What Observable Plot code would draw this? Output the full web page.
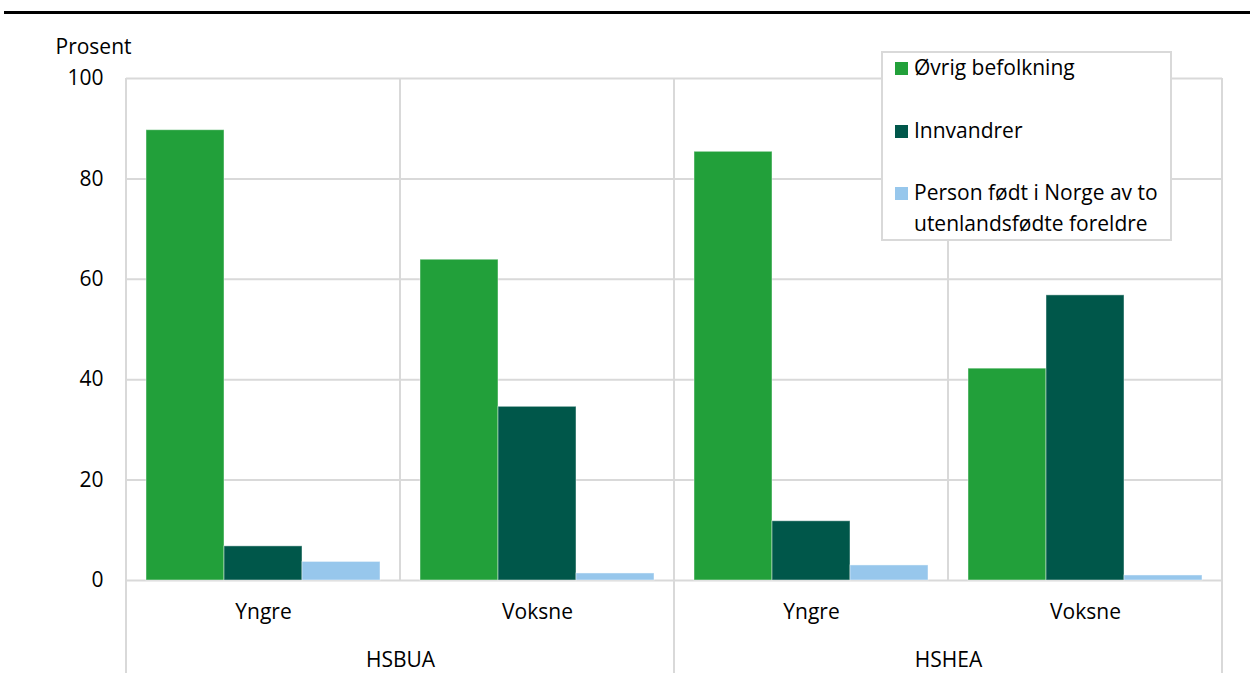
<!DOCTYPE html>
<html>
<head>
<meta charset="utf-8">
<script src="https://cdn.jsdelivr.net/npm/d3@7"></script>
<script src="https://cdn.jsdelivr.net/npm/@observablehq/plot@0.6"></script>
<style>
  body { margin: 0; background: #fff; font-family: "Open Sans", sans-serif; }
  #wrap { position: relative; width: 1250px; height: 673px; overflow: hidden; }
  #topline { position: absolute; left: 4px; top: 11px; width: 1246px; height: 3px; background: #000; }
  #chart { position: absolute; left: 0; top: 0; }
  #legend { position: absolute; left: 881px; top: 51px; width: 287px; height: 186px;
            border: 2px solid #d9d9d9; background: #fff; font-size: 21px; color: #000; line-height: 31px; }
  .item { position: absolute; left: 12px; }
  .sw { position: absolute; left: 0; width: 13px; height: 13px; }
  .lab { position: absolute; left: 19px; white-space: nowrap; }
</style>
</head>
<body>
<div id="wrap">
  <div id="chart"></div>
  <div id="topline"></div>
  <div id="legend"></div>
</div>
<script>
// ---- data ----
const groups = ["HSBUA", "HSBUA", "HSHEA", "HSHEA"];
const ages = ["Yngre", "Voksne", "Yngre", "Voksne"];
const seriesNames = ["Øvrig befolkning", "Innvandrer", "Person født i Norge av to utenlandsfødte foreldre"];
const ovrig = [89.7, 63.9, 85.4, 42.2];
const innvandrer = [6.8, 34.6, 11.8, 56.8];
const personFodt = [3.7, 1.4, 3.0, 1.0];
const colors = ["#22a03a", "#00574a", "#97c7ec"];
const yTicks = [0, 20, 40, 60, 80, 100];
const legendLines = [["Øvrig befolkning"], ["Innvandrer"], ["Person født i Norge av to", "utenlandsfødte foreldre"]];

const values = [ovrig, innvandrer, personFodt];
const keys = groups.map((g, i) => g + "|" + ages[i]);
const rows = [];
keys.forEach((k, i) => seriesNames.forEach((s, j) => rows.push({key: k, series: s, value: values[j][i]})));
const groupNames = [...new Set(groups)];
const groupFirstKey = groupNames.map(g => keys[groups.indexOf(g)]);

const FS = 21;
const plot = Plot.plot({
  width: 1250, height: 673,
  marginLeft: 126, marginRight: 28, marginTop: 78, marginBottom: 93,
  style: {fontFamily: "Open Sans", fontSize: FS + "px", color: "#000", background: "transparent", overflow: "visible"},
  fx: {domain: keys, padding: 0, axis: null},
  x: {domain: seriesNames, paddingInner: 0, paddingOuter: 0.25, axis: null},
  y: {domain: [0, 100], axis: null},
  color: {domain: seriesNames, range: colors},
  marks: [
    Plot.gridY(yTicks, {stroke: "#d9d9d9", strokeOpacity: 1, strokeWidth: 2}),
    Plot.barY(rows, {fx: "key", x: "series", y: "value", fill: "series", stroke: "#fff", strokeOpacity: 0.45, strokeWidth: 1}),
    Plot.axisY(yTicks, {fx: () => keys[0], anchor: "left", tickSize: 0, tickPadding: 23, label: null, fontSize: FS}),
    Plot.text(keys, {fx: d => d, text: d => d.split("|")[1], frameAnchor: "bottom", dy: 38, fontSize: FS}),
    Plot.text(groupNames, {fx: (d, i) => groupFirstKey[i], text: d => d, frameAnchor: "bottom-right", textAnchor: "middle", dy: 86, fontSize: FS}),
    Plot.text(["Prosent"], {fx: () => keys[0], text: d => d, frameAnchor: "top-left", textAnchor: "start", dx: -71, dy: -39, fontSize: FS})
  ]
});
document.getElementById("chart").appendChild(plot);

// category separators from the library's scales
const fx = plot.scale("fx"), y = plot.scale("y");
const y0 = y.apply(0), y100 = y.apply(100);
const bw = fx.bandwidth;
const edges = keys.map(k => fx.apply(k)).concat([fx.apply(keys[keys.length - 1]) + bw]);
const sepNode = document.createElementNS("http://www.w3.org/2000/svg", "g");
plot.insertBefore(sepNode, plot.firstChild);
const sep = d3.select(sepNode).attr("stroke", "#d9d9d9").attr("stroke-width", 2);
edges.forEach((x, i) => {
  sep.append("line").attr("x1", x).attr("x2", x).attr("y1", y100).attr("y2", y0);
  const isGroupEdge = i === 0 || i === keys.length || groups[i] !== groups[i - 1];
  if (isGroupEdge) sep.append("line").attr("x1", x).attr("x2", x).attr("y1", y0).attr("y2", 673);
});

// legend
const lg = document.getElementById("legend");
const itemTops = [-1, 62, 124];
legendLines.forEach((lines, i) => {
  const it = document.createElement("div");
  it.className = "item";
  it.style.top = itemTops[i] + "px";
  it.innerHTML = `<div class="sw" style="background:${colors[i]};top:${(31 - 13) / 2 + 1}px"></div>` +
    `<div class="lab">${lines.join("<br>")}</div>`;
  lg.appendChild(it);
});
</script>
</body>
</html>
